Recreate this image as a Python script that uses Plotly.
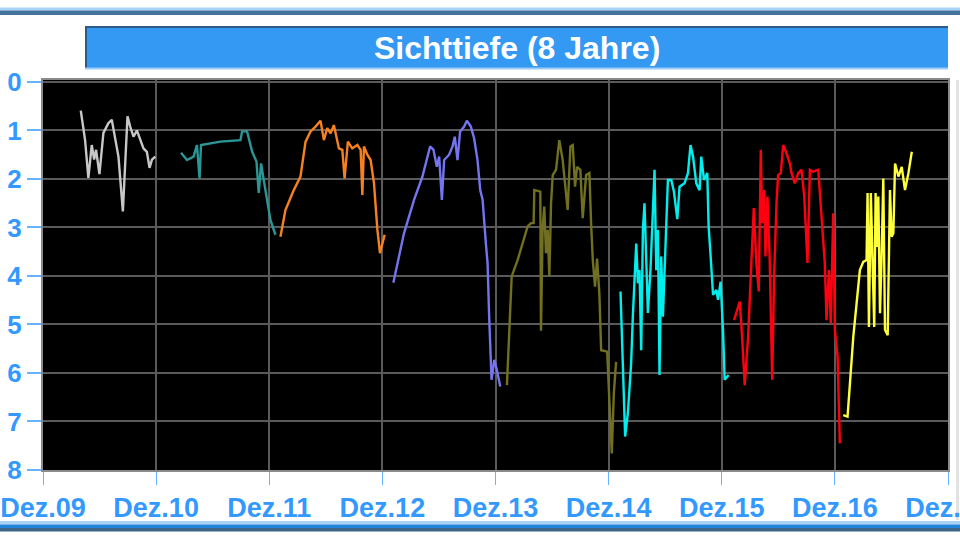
import plotly.graph_objects as go

# ---------------- data (decimal years, Sichttiefe in m) ----------------
x_2010 = [2010.251, 2010.289, 2010.318, 2010.348, 2010.369, 2010.386, 2010.416, 2010.451, 2010.495, 2010.525,
          2010.546, 2010.584, 2010.623, 2010.643, 2010.664, 2010.688, 2010.717, 2010.747, 2010.776, 2010.805,
          2010.835, 2010.859, 2010.88, 2010.909]
y_2010 = [0.59, 1.2, 1.98, 1.3, 1.6, 1.4, 1.9, 1.05, 0.85, 0.78,
          1.05, 1.54, 2.67, 1.54, 0.71, 0.92, 1.13, 1.0, 1.2, 1.37,
          1.44, 1.77, 1.6, 1.54]

x_2011 = [2011.137, 2011.19, 2011.248, 2011.278, 2011.301, 2011.314, 2011.485, 2011.662, 2011.677, 2011.721,
          2011.766, 2011.804, 2011.824, 2011.845, 2011.868, 2011.928, 2011.972]
y_2011 = [1.46, 1.61, 1.54, 1.3, 1.99, 1.3, 1.23, 1.2, 1.02, 1.02,
          1.44, 1.64, 2.29, 1.68, 2.02, 2.85, 3.15]

x_2012 = [2012.016, 2012.06, 2012.134, 2012.193, 2012.238, 2012.282, 2012.326, 2012.37, 2012.4, 2012.43,
          2012.459, 2012.488, 2012.533, 2012.563, 2012.583, 2012.612, 2012.651, 2012.696, 2012.725, 2012.74,
          2012.754, 2012.784, 2012.813, 2012.843, 2012.873, 2012.896, 2012.937]
y_2012 = [3.19, 2.64, 2.23, 1.95, 1.23, 1.02, 0.92, 0.8, 1.2, 0.95,
          1.06, 0.89, 1.37, 1.4, 1.99, 1.23, 1.37, 1.3, 1.4, 2.33,
          1.33, 1.5, 1.61, 2.09, 3.05, 3.53, 3.15]

x_2013 = [2013.014, 2013.108, 2013.197, 2013.271, 2013.339, 2013.369, 2013.398, 2013.419, 2013.443, 2013.463,
          2013.507, 2013.537, 2013.557, 2013.581, 2013.604, 2013.64, 2013.664, 2013.699, 2013.728, 2013.758,
          2013.782, 2013.803, 2013.832, 2013.847, 2013.861, 2013.882, 2013.906, 2013.929, 2013.959]
y_2013 = [4.14, 3.12, 2.43, 1.95, 1.33, 1.4, 1.75, 1.54, 2.43, 1.61,
          1.5, 1.33, 1.13, 1.61, 1.02, 0.92, 0.8, 0.92, 1.16, 1.61,
          2.23, 2.43, 3.33, 3.74, 4.84, 6.14, 5.73, 5.94, 6.28]

x_2014 = [2014.018, 2014.038, 2014.06, 2014.113, 2014.201, 2014.231, 2014.254, 2014.26, 2014.313, 2014.319,
          2014.334, 2014.348, 2014.363, 2014.378, 2014.393, 2014.408, 2014.423, 2014.452, 2014.481, 2014.511,
          2014.531, 2014.555, 2014.579, 2014.6, 2014.62, 2014.638, 2014.667, 2014.688, 2014.718, 2014.747,
          2014.762, 2014.777, 2014.797, 2014.815, 2014.835, 2014.851, 2014.904, 2014.924, 2014.945, 2014.963,
          2014.983]
y_2014 = [6.25, 5.05, 4.01, 3.67, 2.98, 2.91, 2.91, 2.23, 2.26, 5.13,
          2.98, 2.57, 3.53, 3.05, 4.01, 2.5, 1.92, 1.81, 1.2, 1.61,
          2.16, 2.64, 1.33, 1.3, 2.16, 1.75, 1.81, 2.81, 1.92, 1.88,
          2.91, 3.67, 4.22, 3.64, 4.36, 5.53, 5.56, 6.49, 7.66, 6.42,
          5.77]

x_2015 = [2015.022, 2015.043, 2015.063, 2015.087, 2015.116, 2015.131, 2015.145, 2015.161, 2015.176, 2015.19,
          2015.205, 2015.22, 2015.234, 2015.249, 2015.264, 2015.287, 2015.309, 2015.323, 2015.338, 2015.353,
          2015.367, 2015.382, 2015.397, 2015.426, 2015.441, 2015.471, 2015.494, 2015.524, 2015.544, 2015.588,
          2015.618, 2015.641, 2015.663, 2015.692, 2015.721, 2015.736, 2015.76, 2015.789, 2015.801, 2015.819,
          2015.84, 2015.869, 2015.884, 2015.907, 2015.928, 2015.943, 2015.978]
y_2015 = [4.32, 5.8, 7.31, 6.83, 5.8, 4.84, 4.01, 3.33, 4.15, 3.88,
          5.53, 3.05, 2.5, 3.53, 4.76, 3.88, 2.36, 1.81, 3.88, 3.05,
          6.04, 3.6, 4.84, 3.05, 2.02, 2.02, 2.26, 2.83, 2.16, 2.09,
          1.88, 1.3, 1.54, 2.09, 2.23, 1.54, 2.02, 1.88, 2.98, 3.6,
          4.39, 4.29, 4.49, 4.12, 5.11, 6.14, 6.04]

x_2016 = [2016.026, 2016.055, 2016.076, 2016.097, 2016.12, 2016.15, 2016.179, 2016.2, 2016.223, 2016.244,
          2016.262, 2016.274, 2016.292, 2016.303, 2016.321, 2016.341, 2016.363, 2016.38, 2016.401, 2016.415,
          2016.439, 2016.46, 2016.489, 2016.519, 2016.534, 2016.563, 2016.593, 2016.622, 2016.646, 2016.675,
          2016.696, 2016.725, 2016.77, 2016.799, 2016.828, 2016.843, 2016.864, 2016.881, 2016.902, 2016.917,
          2016.941, 2016.961]
y_2016 = [4.91, 4.7, 4.53, 5.25, 6.25, 5.25, 3.88, 2.6, 3.74, 4.32,
          1.4, 2.91, 2.23, 3.6, 2.36, 3.67, 6.14, 4.01, 2.5, 1.92,
          1.88, 1.3, 1.47, 1.68, 1.88, 2.09, 1.88, 1.81, 2.36, 3.73,
          1.81, 1.85, 1.81, 2.78, 3.74, 4.91, 3.88, 4.98, 2.71, 5.11,
          5.66, 7.45]

x_2017 = [2016.991, 2017.029, 2017.08, 2017.138, 2017.168, 2017.197, 2017.206, 2017.218, 2017.235, 2017.256,
          2017.265, 2017.277, 2017.286, 2017.301, 2017.316, 2017.33, 2017.345, 2017.36, 2017.384, 2017.404,
          2017.419, 2017.434, 2017.449, 2017.479, 2017.508, 2017.537, 2017.567, 2017.597]
y_2017 = [6.87, 6.9, 5.25, 3.88, 3.71, 3.67, 2.29, 5.05, 2.29, 4.29,
          5.05, 2.29, 3.4, 2.36, 4.77, 3.6, 1.99, 5.11, 5.22, 2.23,
          3.19, 3.12, 1.68, 1.95, 1.75, 2.23, 1.88, 1.44]

tick_years = [2009.917, 2010.917, 2011.917, 2012.917, 2013.917, 2014.917, 2015.917, 2016.917, 2017.917]
tick_labels = ["Dez.09", "Dez.10", "Dez.11", "Dez.12", "Dez.13", "Dez.14", "Dez.15", "Dez.16", "Dez.17"]
depth_ticks = [0, 1, 2, 3, 4, 5, 6, 7, 8]

title_text = "Sichttiefe (8 Jahre)"

# ---------------- figure ----------------
series = [
    (x_2010, y_2010, "#C8C8C8"),
    (x_2011, y_2011, "#2A9696"),
    (x_2012, y_2012, "#F5821F"),
    (x_2013, y_2013, "#7474F0"),
    (x_2014, y_2014, "#707020"),
    (x_2015, y_2015, "#00EEEE"),
    (x_2016, y_2016, "#FF0010"),
    (x_2017, y_2017, "#FFFF3A"),
]

fig = go.Figure()
for xs, ys, col in series:
    fig.add_trace(go.Scatter(x=xs, y=ys, mode="lines",
                             line=dict(color=col, width=2.4), showlegend=False,
                             hoverinfo="skip"))

L, R, T, B = 43, 12, 80, 70
W, H = 960, 540
PW, PH = W - L - R, H - T - B


def px(x):
    return (x - L) / PW


def py(y):
    return (H - B - y) / PH


def band(x0, x1, y0, y1, color):
    return dict(type="rect", xref="paper", yref="paper",
                x0=px(x0), x1=px(x1), y0=py(y1), y1=py(y0),
                fillcolor=color, line=dict(width=0), layer="below")


shapes = [
    band(0, 960, 7.5, 10.5, "#A9D3F5"),
    band(0, 960, 10.5, 15, "#44739C"),
    band(0, 960, 521, 524.5, "#A9D3F5"),
    band(0, 960, 524.5, 528, "#2283DB"),
    band(0, 960, 528, 531.5, "#3E6585"),
    band(85, 948, 26, 69, "#3399F3"),
    band(85, 948, 26, 28, "#2C5C86"),
    band(85, 87, 26, 69, "#2C5C86"),
    band(85, 948, 67.5, 69.5, "#9CCCF5"),
    band(956, 959, 80, 520, "#E2E2E2"),
]

x_font = dict(family="Liberation Sans", size=27, color="#3399FF", weight="bold")
y_font = dict(family="Liberation Sans", size=26, color="#3399FF", weight="bold")

fig.update_layout(
    width=W, height=H,
    margin=dict(l=L, r=R, t=T, b=B),
    paper_bgcolor="white",
    plot_bgcolor="black",
    shapes=shapes,
    annotations=[dict(text=title_text, xref="paper", yref="paper",
                      x=px(516.5), y=py(48), xanchor="center", yanchor="middle",
                      showarrow=False,
                      font=dict(family="Liberation Sans", size=32, color="white", weight="bold"))],
    xaxis=dict(range=[tick_years[0], tick_years[-1]], tickmode="array",
               tickvals=tick_years, ticktext=tick_labels,
               showgrid=True, gridcolor="#5A5A5A", gridwidth=2,
               showline=True, linecolor="#8A8A8A", linewidth=2, mirror=True,
               ticks="outside", ticklen=13, tickwidth=1, tickcolor="#66B3FF",
               tickfont=x_font, ticklabeloverflow="allow",
               zeroline=False, automargin=False, fixedrange=True),
    yaxis=dict(range=[8, -0.04], tickmode="array", tickvals=depth_ticks,
               ticktext=[str(v) for v in depth_ticks],
               showgrid=True, gridcolor="#5A5A5A", gridwidth=2,
               showline=True, linecolor="#8A8A8A", linewidth=2, mirror=True,
               ticks="outside", ticklen=14, tickwidth=2, tickcolor="#66B3FF",
               tickfont=y_font, ticklabeloverflow="allow",
               zeroline=False, automargin=False, fixedrange=True),
)

fig.write_html("out.html", config={"displayModeBar": False},
               post_script="document.body.style.margin='0';document.body.style.overflow='hidden';")
